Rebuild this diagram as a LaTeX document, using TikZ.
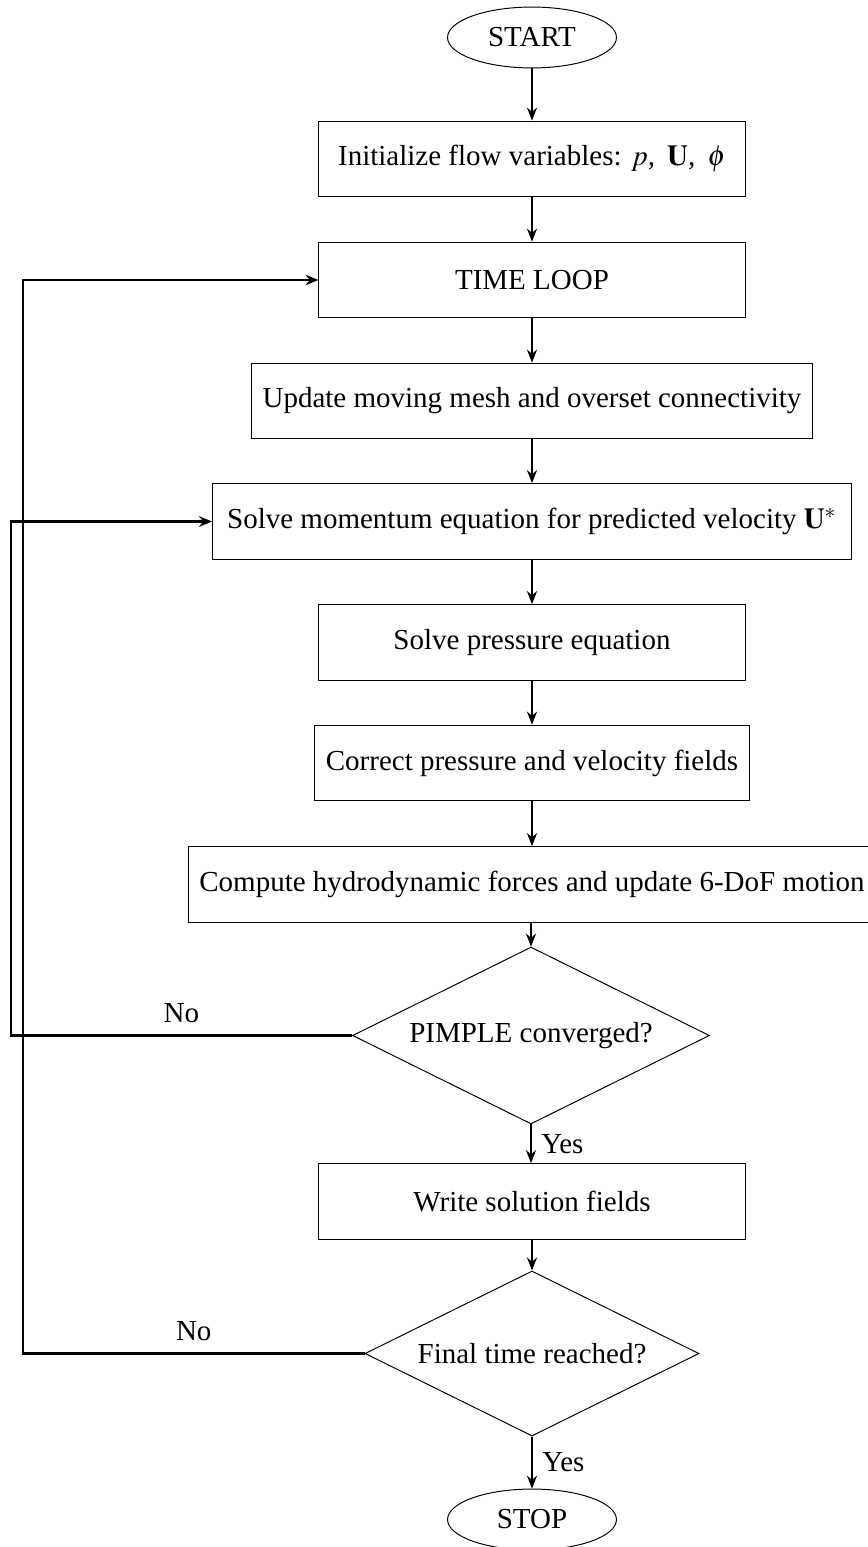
\documentclass[tikz,border=0pt]{standalone}
\usepackage{mathptmx}
\usepackage{fontspec}
\setmainfont{Liberation Serif}
\usetikzlibrary{shapes.geometric,arrows.meta}
\begin{document}
\begin{tikzpicture}[x=0.4138pt,y=-0.4138pt,
  font=\fontsize{12}{14}\selectfont,
  box/.style={draw, line width=0.4pt, rectangle, minimum height=31.4pt, inner sep=0pt, align=center},
  term/.style={draw, line width=0.4pt, ellipse, minimum width=69.9pt, minimum height=25.2pt, inner sep=0pt},
  dec/.style={draw, line width=0.4pt, diamond, inner sep=0pt, align=center, aspect=2.02},
  flow/.style={-{Stealth[length=5.4pt,width=4.2pt,inset=1.8pt]}, line width=0.5pt},
  back/.style={-{Stealth[length=5.4pt,width=4.4pt,inset=1.8pt]}, line width=0.9pt}]
\useasboundingbox (0,0) rectangle (867,1547);
\node[term] (start) at (532,37.5) {START};
\node[box, minimum width=176.3pt] (init) at (532,159) {Initialize flow variables: $p$,\, $\mathbf{U}$,\, $\phi$};
\node[box, minimum width=176.3pt] (time) at (532,280) {TIME LOOP};
\node[box, minimum width=232.1pt] (update) at (532,401) {Update moving mesh and overset connectivity};
\node[box, minimum width=264.4pt] (mom) at (532,521.5) {Solve momentum equation for predicted velocity $\mathbf{U}^{*}$};
\node[box, minimum width=176.3pt] (press) at (532,642.5) {Solve pressure equation};
\node[box, minimum width=180pt] (corr) at (532,763) {Correct pressure and velocity fields};
\node[box, minimum width=284.7pt] (comp) at (532,884.5) {Compute hydrodynamic forces and update 6-DoF motion};
\node[dec, minimum width=147.7pt, minimum height=73.2pt] (pimple) at (531,1035.5) {PIMPLE converged?};
\node[box, minimum width=176.3pt] (write) at (532,1201.5) {Write solution fields};
\node[dec, minimum width=138.2pt, minimum height=68.3pt] (final) at (532,1353.5) {Final time reached?};
\node[term] (stop) at (532,1519.5) {STOP};
\coordinate (L1) at (10.7,0);
\coordinate (L2) at (23,0);
\draw[flow] (start) -- (init);
\draw[flow] (init) -- (time);
\draw[flow] (time) -- (update);
\draw[flow] (update) -- (mom);
\draw[flow] (mom) -- (press);
\draw[flow] (press) -- (corr);
\draw[flow] (corr) -- (comp);
\draw[flow] (comp.south -| pimple.north) -- (pimple.north);
\draw[flow] (pimple.south) -- node[right, inner sep=4pt]{Yes} (pimple.south |- write.north);
\draw[flow] (write) -- (final);
\draw[flow] (final.south) -- node[right, inner sep=4pt]{Yes} (stop.north);
\draw[back] (pimple.west) -- node[above, inner sep=5pt]{No} (pimple.west -| L1) |- (mom.west);
\draw[back] (final.west) -- node[above, inner sep=5pt]{No} (final.west -| L2) |- (time.west);
\end{tikzpicture}
\end{document}
